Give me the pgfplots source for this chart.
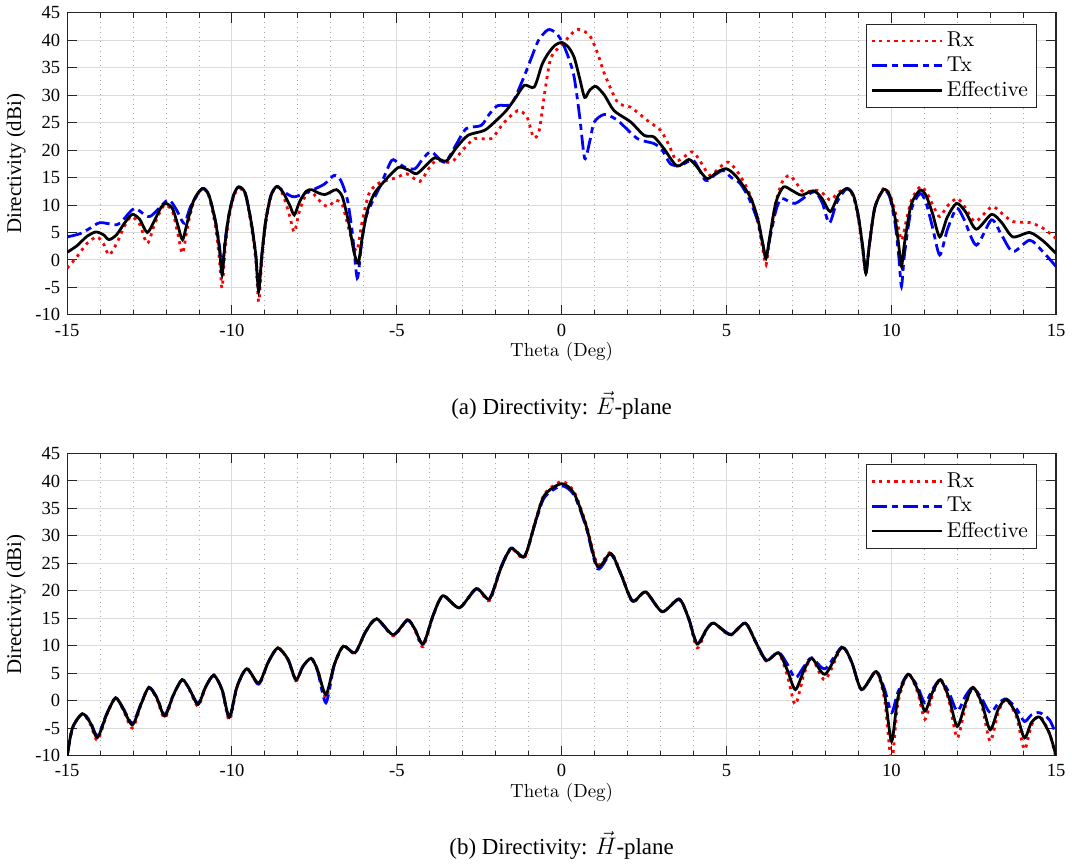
\documentclass[border=0pt]{standalone}
\usepackage{fontspec}
\setmainfont{Liberation Serif}
\newfontfamily\cmfont{lmroman10-regular}[Extension=.otf]
\usepackage{pgfplots}
\pgfplotsset{compat=1.18}

\definecolor{gridmaj}{HTML}{DCDCDC}
\definecolor{gridmin}{HTML}{A8A8A8}
\definecolor{axline}{HTML}{262626}

\pgfplotsset{
  dirstyle/.style={
    width=496pt, height=151.5pt, scale only axis,
    xmin=-15, xmax=15, ymin=-10, ymax=45,
    xtick={-15,-10,...,15}, ytick={-10,-5,...,45},
    minor x tick num=4,
    xmajorgrids, ymajorgrids, xminorgrids,
    major grid style={gridmaj, line width=0.5pt},
    minor grid style={gridmin, dotted, line width=0.5pt},
    tick align=inside, tick pos=both,
    major tick length=5pt, minor tick length=2.5pt,
    every tick/.style={axline, line width=0.5pt},
    axis line style={axline, line width=0.6pt},
    /pgf/number format/assume math mode=true,
    tick label style={font=\fontsize{9.3}{10}\selectfont},
    xticklabel style={yshift=-1pt},
    xlabel={\cmfont Theta (Deg)},
    xlabel style={font=\fontsize{9.5}{10}\selectfont, yshift=4pt},
    ylabel={Directivity (dBi)},
    ylabel style={font=\fontsize{10.5}{11}\selectfont, yshift=-2pt},
    legend style={at={(0.98,0.964)}, anchor=north east, draw=axline,
      font=\cmfont\fontsize{10.8}{12.5}\selectfont, inner sep=2pt,
      row sep=-0.5pt, cells={anchor=west}},
    legend image code/.code={\draw[#1] plot coordinates {(0pt,0pt) (35pt,0pt)};},
    every axis plot/.append style={line width=1.4pt, smooth, tension=0.45},
  },
  rxs/.style={red, dash pattern=on 1.5pt off 2.3pt},
  txs/.style={blue, dash pattern=on 7.5pt off 2.5pt on 3pt off 2.5pt},
  efs/.style={black, solid},
}

\begin{document}
\begin{tikzpicture}
% ---------- (a) E-plane ----------
\begin{axis}[dirstyle, name=a]
\addplot[rxs] coordinates {
(-15,-1.5)(-14.7,0.6)(-14.4,3.0)(-14.1,4.2)(-13.9,3.0)(-13.73,0.9)(-13.5,3.0)(-13.25,6.3)(-13.05,7.9)(-12.8,6.5)(-12.57,3.0)(-12.35,6.5)(-12.12,9.5)(-12.0,10.0)(-11.8,8.8)(-11.65,5.0)(-11.5,1.2)(-11.35,6.0)(-11.15,10.8)(-10.9,13.0)(-10.7,11.6)(-10.5,6.0)(-10.38,0)(-10.3,-5.1)(-10.22,1.0)(-10.1,7.5)(-9.95,11.5)(-9.8,13.0)(-9.6,12.0)(-9.42,6.5)(-9.28,0)(-9.19,-7.6)(-9.1,-0.5)(-8.98,6.5)(-8.82,11.5)(-8.64,13.4)(-8.45,11.8)(-8.25,8.0)(-8.11,5.1)(-7.95,9.0)(-7.75,12.0)(-7.58,12.4)(-7.38,11.0)(-7.1,9.7)(-6.85,10.9)(-6.65,10.0)(-6.45,5.5)(-6.3,2.5)(-6.2,1.8)(-6.05,7.0)(-5.85,12.0)(-5.6,13.8)(-5.3,14.5)(-5.0,15.0)(-4.7,15.7)(-4.3,14.3)(-4.05,16.5)(-3.8,18.1)(-3.35,17.8)(-3.0,20.0)(-2.64,22.1)(-2.14,22.1)(-1.75,25.0)(-1.33,27.2)(-1.05,26.0)(-0.85,22.3)(-0.68,23.6)(-0.5,31.0)(-0.32,36.9)(0.03,39.3)(0.43,41.9)(0.7,41.6)(0.89,40.5)(1.1,37.5)(1.3,33.9)(1.7,28.7)(2.1,27.8)(2.6,25.4)(3.0,23.6)(3.25,21.0)(3.5,18.1)(3.96,19.7)(4.2,18.0)(4.5,15.4)(4.8,16.9)(5.07,17.8)(5.4,15.5)(5.72,11.8)(5.95,7.0)(6.1,2.0)(6.2,-0.9)(6.32,4.0)(6.5,10.5)(6.7,14.3)(6.91,15.4)(7.1,14.2)(7.33,12.4)(7.74,12.7)(7.95,12.0)(8.15,10.9)(8.4,12.3)(8.65,13.0)(8.85,11.5)(9.0,7.5)(9.13,2.0)(9.23,-2.4)(9.33,2.5)(9.5,9.5)(9.76,13.0)(9.95,12.0)(10.15,8.0)(10.31,3.6)(10.45,7.0)(10.62,11.0)(10.89,13.4)(11.1,12.0)(11.3,9.5)(11.47,7.9)(11.7,9.8)(12.0,11.2)(12.25,9.5)(12.55,7.0)(13.05,9.7)(13.35,8.5)(13.69,7.0)(14.2,6.8)(14.6,5.8)(15,3.9)};
\addlegendentry{Rx}
\addplot[txs] coordinates {
(-15,4.2)(-14.6,4.8)(-14.3,5.8)(-14.0,6.8)(-13.5,6.4)(-13.3,7.3)(-12.95,9.4)(-12.5,7.9)(-11.95,10.9)(-11.7,9.3)(-11.45,6.7)(-11.25,9.8)(-10.9,13.0)(-10.7,11.8)(-10.5,7.0)(-10.38,2.5)(-10.3,-2.0)(-10.22,3.0)(-10.1,8.0)(-9.95,11.8)(-9.8,13.3)(-9.6,12.2)(-9.42,7.0)(-9.28,1.0)(-9.19,-5.4)(-9.1,0.5)(-8.98,7.0)(-8.82,11.7)(-8.64,13.4)(-8.4,12.3)(-8.1,11.5)(-7.58,12.7)(-7.2,13.8)(-6.9,15.4)(-6.7,14.5)(-6.5,11.0)(-6.35,5.0)(-6.2,-3.3)(-6.08,2.5)(-5.95,7.5)(-5.75,10.5)(-5.5,13.5)(-5.16,18.1)(-4.95,17.6)(-4.76,16.9)(-4.45,16.6)(-4.2,18.5)(-3.95,19.7)(-3.55,17.8)(-3.2,21.0)(-2.9,23.9)(-2.44,24.5)(-2.2,26.5)(-1.94,28.1)(-1.53,28.4)(-1.2,32.5)(-0.93,36.6)(-0.7,40.0)(-0.42,41.9)(-0.2,41.5)(0,39.9)(0.2,37.0)(0.38,33.3)(0.55,26.0)(0.7,18.5)(0.85,21.5)(0.99,25.1)(1.3,26.5)(1.7,25.4)(2.3,22.1)(2.8,21.2)(3.05,20.0)(3.3,17.5)(3.6,17.2)(4.0,18.1)(4.36,14.5)(4.65,15.5)(4.9,16.3)(5.15,15.0)(5.42,13.9)(5.7,11.0)(5.95,7.0)(6.1,3.0)(6.2,0.6)(6.32,4.0)(6.5,9.0)(6.68,11.2)(7.08,10.3)(7.64,12.4)(7.9,10.5)(8.12,6.7)(8.35,10.5)(8.65,13.0)(8.85,11.8)(9.0,8.0)(9.13,2.5)(9.23,-2.4)(9.33,2.5)(9.5,9.5)(9.76,12.7)(9.95,11.5)(10.12,6.5)(10.23,0.5)(10.31,-4.8)(10.4,1.0)(10.6,9.0)(10.87,12.1)(11.05,10.5)(11.25,6.0)(11.47,0.9)(11.7,5.5)(11.98,9.4)(12.2,7.5)(12.58,2.7)(13.04,7.3)(13.35,4.5)(13.69,1.5)(14.2,3.6)(14.6,1.5)(15,-1.2)};
\addlegendentry{Tx}
\addplot[efs] coordinates {
(-15,1.4)(-14.7,2.6)(-14.4,4.3)(-14.13,5.1)(-13.9,4.6)(-13.73,3.7)(-13.5,4.6)(-13.25,6.8)(-13.02,8.3)(-12.8,7.4)(-12.57,5.0)(-12.35,7.2)(-12.15,9.6)(-12.0,10.3)(-11.8,9.3)(-11.65,6.5)(-11.5,3.7)(-11.35,7.0)(-11.15,11.0)(-10.9,13.0)(-10.7,11.8)(-10.5,7.0)(-10.38,2.0)(-10.3,-2.7)(-10.22,2.5)(-10.1,8.0)(-9.95,11.8)(-9.8,13.3)(-9.6,12.2)(-9.42,7.0)(-9.28,1.0)(-9.19,-5.7)(-9.1,0.5)(-8.98,7.0)(-8.82,11.7)(-8.64,13.4)(-8.45,12.3)(-8.25,10.0)(-8.11,8.2)(-7.95,10.6)(-7.75,12.5)(-7.58,12.8)(-7.38,12.2)(-7.18,11.9)(-7.0,12.4)(-6.83,12.8)(-6.65,11.5)(-6.45,6.5)(-6.3,1.5)(-6.17,-0.6)(-6.05,4.0)(-5.9,8.8)(-5.7,11.9)(-5.5,13.5)(-5.2,15.5)(-4.93,16.9)(-4.65,16.4)(-4.4,15.7)(-4.1,17.3)(-3.85,18.6)(-3.5,18.0)(-3.2,20.4)(-2.84,22.7)(-2.34,23.6)(-2.0,25.3)(-1.68,27.2)(-1.4,29.5)(-1.13,31.8)(-0.83,31.5)(-0.6,35.5)(-0.42,37.5)(-0.2,39.1)(0,39.6)(0.2,38.8)(0.38,36.9)(0.55,33.0)(0.7,29.6)(0.85,30.9)(1.04,31.6)(1.3,30.0)(1.59,27.2)(2.1,25.1)(2.5,22.7)(2.8,22.4)(3.1,20.3)(3.5,17.1)(3.86,18.3)(4.1,17.0)(4.41,14.8)(4.72,16.0)(5.0,16.6)(5.3,15.2)(5.72,11.5)(5.95,7.5)(6.1,3.0)(6.2,0.3)(6.32,4.5)(6.5,10.5)(6.73,13.3)(7.0,12.6)(7.28,11.8)(7.64,12.6)(7.9,11.2)(8.15,8.8)(8.4,11.8)(8.65,13.0)(8.85,11.8)(9.0,8.0)(9.13,2.5)(9.23,-2.4)(9.33,2.5)(9.5,9.5)(9.76,12.8)(9.95,11.8)(10.12,7.5)(10.23,2.5)(10.31,-1.2)(10.4,3.0)(10.6,10.0)(10.87,12.7)(11.05,11.8)(11.25,8.5)(11.47,4.2)(11.7,7.8)(11.98,10.3)(12.25,8.8)(12.58,5.6)(13.04,8.3)(13.35,6.8)(13.69,4.2)(14.2,5.0)(14.6,3.5)(15,1.2)};
\addlegendentry{Effective}
\end{axis}
\node[font=\fontsize{11.5}{13}\selectfont] at ([yshift=-45.5pt]a.south) {(a) Directivity: $\vec{E}$-plane};

% ---------- (b) H-plane ----------
\begin{axis}[dirstyle, name=b, at={(0,-221pt)}]
\addplot[rxs] coordinates {
(-15,-10.5)(-14.84,-5.0)(-14.54,-2.4)(-14.3,-4.3)(-14.08,-7.2)(-13.8,-2.6)(-13.53,0.5)(-13.3,-1.7)(-13.02,-5.0)(-12.75,-0.6)(-12.52,2.4)(-12.28,0.3)(-12.04,-3.2)(-11.78,0.9)(-11.51,3.8)(-11.28,1.8)(-11.03,-1.0)(-10.8,2.4)(-10.55,4.7)(-10.3,1.8)(-10.08,-3.6)(-9.85,2.3)(-9.55,5.8)(-9.19,3.0)(-8.9,7.0)(-8.61,9.6)(-8.3,7.4)(-8.06,3.6)(-7.85,6.2)(-7.6,7.7)(-7.4,5.6)(-7.15,0.5)(-6.9,6.4)(-6.62,9.9)(-6.27,8.6)(-5.95,12.5)(-5.61,14.9)(-5.11,11.8)(-4.68,14.7)(-4.45,12.8)(-4.2,9.8)(-3.9,15.4)(-3.6,19.1)(-3.1,16.9)(-2.59,20.4)(-2.19,18.2)(-1.85,24.0)(-1.53,27.6)(-1.13,26.0)(-0.8,32.6)(-0.52,37.6)(0,39.9)(0.38,38.0)(0.74,32.2)(1.09,24.8)(1.49,27.0)(1.8,23.2)(2.15,18.0)(2.55,19.8)(3.05,16.2)(3.56,18.5)(3.85,15.0)(4.11,9.6)(4.4,13.0)(4.62,14.1)(5.12,11.9)(5.57,14.1)(5.9,10.5)(6.21,7.2)(6.58,8.7)(6.85,4.5)(7.09,-0.7)(7.35,4.8)(7.59,7.7)(7.99,3.8)(8.5,9.7)(8.8,7.0)(9.1,2.0)(9.54,5.3)(9.8,0)(10.01,-11)(10.2,-0.5)(10.51,4.8)(10.8,1.5)(11.02,-3.4)(11.25,1.0)(11.49,3.8)(11.75,0)(12.0,-6.8)(12.25,-1.0)(12.48,2.4)(12.75,-1.0)(13.0,-7.4)(13.25,-2.0)(13.49,0.2)(13.8,-3.0)(14.04,-8.9)(14.25,-4.5)(14.5,-2.8)(14.8,-6.0)(15,-10.5)};
\addlegendentry{Rx}
\addplot[txs] coordinates {
(-15,-10.3)(-14.84,-5.0)(-14.54,-2.4)(-14.3,-3.8)(-14.08,-6.4)(-13.8,-2.4)(-13.53,0.5)(-13.3,-1.4)(-13.02,-4.1)(-12.75,-0.4)(-12.52,2.4)(-12.28,0.6)(-12.04,-2.6)(-11.78,1.0)(-11.51,3.8)(-11.28,2.0)(-11.03,-0.5)(-10.8,2.5)(-10.55,4.6)(-10.3,2.0)(-10.08,-3.2)(-9.85,2.5)(-9.55,5.8)(-9.19,3.0)(-8.9,7.0)(-8.61,9.5)(-8.3,7.5)(-8.06,3.8)(-7.85,6.2)(-7.6,7.7)(-7.4,5.3)(-7.15,-0.4)(-6.9,6.4)(-6.62,9.9)(-6.27,8.7)(-5.95,12.5)(-5.61,14.8)(-5.11,12.0)(-4.68,14.6)(-4.45,13.0)(-4.2,10.3)(-3.9,15.5)(-3.6,19.0)(-3.1,16.9)(-2.59,20.3)(-2.19,18.6)(-1.85,24.2)(-1.53,27.8)(-1.13,26.3)(-0.8,32.3)(-0.52,37.0)(0,39.1)(0.38,37.4)(0.74,31.6)(1.09,24.0)(1.49,26.6)(1.8,23.0)(2.15,18.2)(2.55,19.7)(3.05,16.2)(3.56,18.4)(3.85,15.0)(4.11,10.4)(4.4,13.0)(4.62,14.1)(5.12,12.1)(5.57,14.1)(5.9,10.6)(6.21,7.4)(6.58,8.8)(6.85,6.6)(7.09,4.1)(7.35,6.2)(7.59,7.8)(7.99,5.8)(8.5,9.7)(8.8,7.0)(9.1,2.0)(9.54,5.3)(9.8,2.0)(10.01,-2.2)(10.2,1.5)(10.51,4.8)(10.8,2.5)(11.02,-0.4)(11.25,2.0)(11.49,3.8)(11.75,1.5)(12.0,-1.9)(12.25,0.8)(12.48,2.4)(12.75,0.3)(13.0,-2.2)(13.25,-0.5)(13.49,0.3)(13.8,-1.5)(14.04,-3.8)(14.25,-2.6)(14.5,-2.2)(14.8,-3.5)(15,-6.2)};
\addlegendentry{Tx}
\addplot[efs] coordinates {
(-15,-10.1)(-14.84,-5.0)(-14.54,-2.4)(-14.3,-4.0)(-14.08,-6.7)(-13.8,-2.5)(-13.53,0.5)(-13.3,-1.5)(-13.02,-4.4)(-12.75,-0.5)(-12.52,2.4)(-12.28,0.5)(-12.04,-2.8)(-11.78,1.0)(-11.51,3.8)(-11.28,2.0)(-11.03,-0.7)(-10.8,2.5)(-10.55,4.6)(-10.3,2.0)(-10.08,-3.0)(-9.85,2.5)(-9.55,5.8)(-9.19,3.2)(-8.9,7.0)(-8.61,9.6)(-8.3,7.5)(-8.06,3.8)(-7.85,6.2)(-7.6,7.7)(-7.4,5.5)(-7.15,1.1)(-6.9,6.5)(-6.62,9.9)(-6.27,8.7)(-5.95,12.5)(-5.61,14.9)(-5.11,12.0)(-4.68,14.7)(-4.45,13.0)(-4.2,10.3)(-3.9,15.5)(-3.6,19.1)(-3.1,16.9)(-2.59,20.4)(-2.19,18.5)(-1.85,24.0)(-1.53,27.7)(-1.13,26.2)(-0.8,32.5)(-0.52,37.4)(0,39.5)(0.38,37.7)(0.74,31.9)(1.09,24.4)(1.49,26.8)(1.8,23.0)(2.15,18.1)(2.55,19.8)(3.05,16.2)(3.56,18.5)(3.85,15.0)(4.11,10.3)(4.4,13.0)(4.62,14.1)(5.12,12.0)(5.57,14.1)(5.9,10.5)(6.21,7.3)(6.58,8.7)(6.85,5.5)(7.09,2.0)(7.35,5.5)(7.59,7.7)(7.99,4.8)(8.5,9.7)(8.8,7.0)(9.1,2.0)(9.54,5.3)(9.8,1.0)(10.01,-7.4)(10.2,0.5)(10.51,4.8)(10.8,2.0)(11.02,-1.9)(11.25,1.5)(11.49,3.8)(11.75,0.5)(12.0,-4.7)(12.25,-0.5)(12.48,2.4)(12.75,-0.5)(13.0,-5.3)(13.25,-1.5)(13.49,0.2)(13.8,-2.5)(14.04,-6.8)(14.25,-4.0)(14.5,-3.0)(14.8,-6.0)(15,-10.1)};
\addlegendentry{Effective}
\end{axis}
\node[font=\fontsize{11.5}{13}\selectfont] at ([yshift=-45pt]b.south) {(b) Directivity: $\vec{H}$-plane};
\end{tikzpicture}
\end{document}
